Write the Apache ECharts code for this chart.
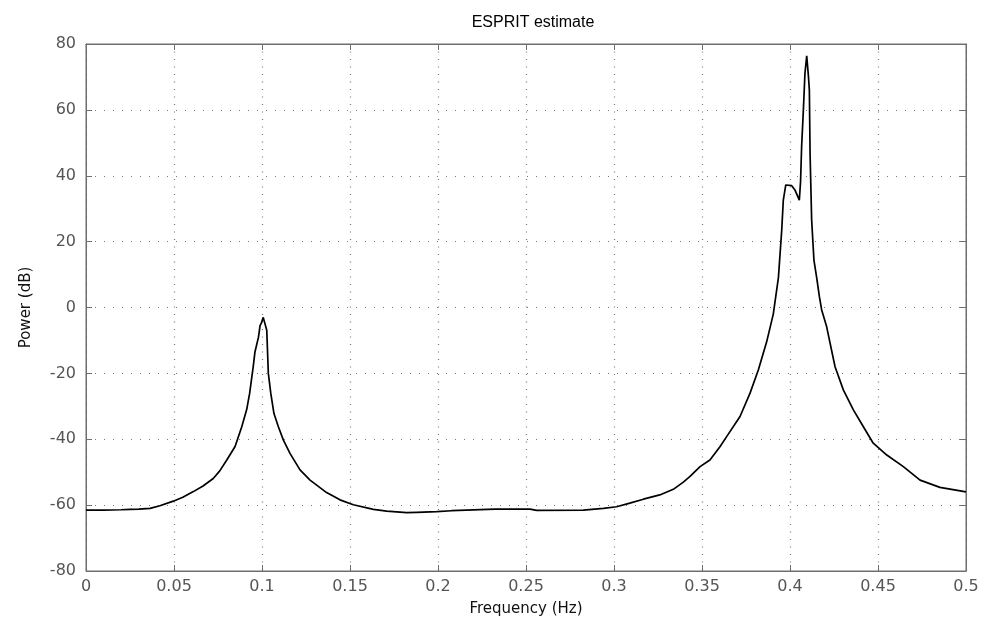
<!DOCTYPE html>
<html>
<head>
<meta charset="utf-8">
<script src="https://cdn.jsdelivr.net/npm/echarts@6/dist/echarts.min.js"></script>
<style>
  html, body { margin: 0; padding: 0; background: #fff; }
  #chart { width: 985px; height: 625px; }
</style>
</head>
<body>
<div id="chart"></div>
<script>
// values
const freq = [
  0, 0.01, 0.02, 0.025, 0.03, 0.0364, 0.042, 0.0496, 0.055, 0.061,
  0.0665, 0.0723, 0.076, 0.080, 0.0847, 0.0885, 0.0913, 0.093, 0.094, 0.095,
  0.096, 0.098, 0.0989, 0.0998, 0.1007, 0.1011, 0.1027, 0.1036, 0.105, 0.1068,
  0.1093, 0.1121, 0.1159, 0.1216, 0.1273, 0.1367, 0.1443, 0.1519, 0.1633, 0.1708,
  0.1822, 0.188, 0.1993, 0.2077, 0.2324, 0.2523, 0.256, 0.2826, 0.294, 0.3015,
  0.309, 0.3167, 0.326, 0.3337, 0.3394, 0.3432, 0.3489, 0.3545, 0.3602, 0.364,
  0.3716, 0.3773, 0.382, 0.3867, 0.3905, 0.3934, 0.3953, 0.3962, 0.3976, 0.401,
  0.4028, 0.4053, 0.406, 0.4066, 0.4076, 0.4085, 0.4095, 0.4105, 0.411, 0.4114,
  0.4123, 0.4136, 0.4152, 0.4167, 0.418, 0.4208, 0.4256, 0.4303, 0.436, 0.4417,
  0.4473, 0.455, 0.4644, 0.4739, 0.4852, 0.5
];
const power = [
  -61.5, -61.5, -61.4, -61.3, -61.2, -61.0, -60.2, -58.8, -57.6, -55.9,
  -54.2, -51.9, -49.6, -46.3, -42.2, -36.2, -31.0, -26.0, -22.0, -18.0,
  -13.5, -9.0, -5.5, -4.5, -3.0, -2.6, -6.9, -20.0, -26.1, -32.2,
  -36.2, -40.2, -44.3, -49.3, -52.4, -56.2, -58.4, -59.9, -61.3, -61.8,
  -62.3, -62.2, -62.0, -61.7, -61.2, -61.2, -61.6, -61.5, -61.0, -60.5,
  -59.4, -58.2, -56.9, -55.2, -53.0, -51.3, -48.3, -46.3, -42.3, -39.2,
  -33.1, -26.0, -19.0, -10.5, -2.0, 9.0, 23.5, 32.6, 37.2, 37.0,
  35.7, 32.6, 38.2, 48.8, 60.0, 71.1, 76.4, 70.0, 66.0, 46.8,
  26.6, 14.4, 8.9, 3.3, -0.75, -5.8, -18.0, -25.0, -31.1, -36.2,
  -41.2, -44.8, -48.3, -52.4, -54.6, -56.0
];
const xTicks = [0, 0.05, 0.1, 0.15, 0.2, 0.25, 0.3, 0.35, 0.4, 0.45, 0.5];
const yTicks = [-80, -60, -40, -20, 0, 20, 40, 60, 80];

const titleFont = 'Liberation Sans, Arial, sans-serif';
const labelFont = 'DejaVu Sans, sans-serif';
const frameColor = '#6e6e6e';
const axisLineStyle = { show: true, onZero: false, lineStyle: { color: frameColor, width: 1 } };
const tickStyle = { show: true, inside: true, length: 6, lineStyle: { color: frameColor } };

let myChart = echarts.init(document.getElementById('chart'));
let option = {
  animation: false,
  backgroundColor: '#fff',
  title: {
    text: 'ESPRIT estimate',
    left: 528,
    top: 10,
    textAlign: 'center',
    textStyle: { fontFamily: titleFont, fontSize: 16, fontWeight: 'normal', color: '#000' }
  },
  grid: {
    left: 86, right: 19, top: 44, bottom: 54,
    show: true, borderColor: frameColor, borderWidth: 1, backgroundColor: 'transparent'
  },
  xAxis: [{
    type: 'value',
    min: xTicks[0], max: xTicks[xTicks.length - 1], interval: 0.05,
    name: 'Frequency (Hz)', nameLocation: 'middle', nameGap: 31, nameMoveOverlap: false,
    nameTextStyle: { fontFamily: labelFont, fontSize: 15, color: '#111' },
    axisLine: axisLineStyle,
    axisTick: tickStyle,
    axisLabel: {
      margin: 8, fontFamily: labelFont, fontSize: 16, color: '#555',
      formatter: function (v) { return String(+v.toFixed(2)); }
    },
    splitLine: { show: true, lineStyle: { color: '#7a7a7a', type: [1, 6.5], width: 1.2 } }
  }, {
    type: 'value', position: 'top',
    min: xTicks[0], max: xTicks[xTicks.length - 1], interval: 0.05,
    axisLine: axisLineStyle,
    axisTick: tickStyle,
    axisLabel: { show: false },
    splitLine: { show: false }
  }],
  yAxis: [{
    type: 'value',
    min: yTicks[0], max: yTicks[yTicks.length - 1], interval: 20,
    name: 'Power (dB)', nameLocation: 'middle', nameGap: 52, nameMoveOverlap: false,
    nameTextStyle: { fontFamily: labelFont, fontSize: 15, color: '#111' },
    axisLine: axisLineStyle,
    axisTick: tickStyle,
    axisLabel: { margin: 10, fontFamily: labelFont, fontSize: 16, color: '#555' },
    splitLine: { show: true, lineStyle: { color: '#7a7a7a', type: [1, 8], width: 1.2 } }
  }, {
    type: 'value', position: 'right',
    min: yTicks[0], max: yTicks[yTicks.length - 1], interval: 20,
    axisLine: axisLineStyle,
    axisTick: tickStyle,
    axisLabel: { show: false },
    splitLine: { show: false }
  }],
  series: [{
    type: 'line',
    xAxisIndex: 0,
    yAxisIndex: 0,
    showSymbol: false,
    symbol: 'none',
    lineStyle: { color: '#000', width: 1.7 },
    data: freq.map(function (f, i) { return [f, power[i]]; })
  }]
};
myChart.setOption(option);
</script>
</body>
</html>
